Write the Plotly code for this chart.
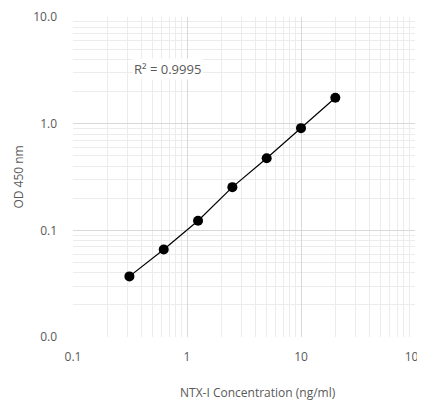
import plotly.graph_objects as go

conc = [0.3125, 0.625, 1.25, 2.5, 5, 10, 20]
od = [0.037, 0.066, 0.123, 0.254, 0.474, 0.908, 1.75]
x_ticks = [0.1, 1, 10, 100]
x_ticktext = ["0.1", "1", "10", "100"]
y_ticks = [0.01, 0.1, 1, 10]
y_ticktext = ["0.0", "0.1", "1.0", "10.0"]
r2_text = "R² = 0.9995"
x_title = "NTX-I Concentration (ng/ml)"
y_title = "OD 450 nm"

FONT = "Open Sans"
GRAY = "#595959"


def minor_vals(lo_exp, hi_exp):
    return [m * 10 ** e for e in range(lo_exp, hi_exp) for m in range(2, 10)]


fig = go.Figure()
fig.add_trace(go.Scatter(
    x=conc, y=od, mode="lines+markers",
    line=dict(color="black", width=1.2),
    marker=dict(color="black", size=10),
    showlegend=False, hoverinfo="skip",
))

axis_common = dict(
    type="log", showline=False, zeroline=False, automargin=False,
    gridcolor="#d9d9d9", gridwidth=1.2,
    ticks="", tickfont=dict(family=FONT, size=12, color=GRAY),
    ticklabeloverflow="allow",
    fixedrange=True,
)

fig.update_layout(
    width=417, height=394,
    margin=dict(l=65, r=10, t=9, b=65),
    paper_bgcolor="white", plot_bgcolor="white",
    font=dict(family=FONT, color=GRAY),
    xaxis=dict(axis_common, range=[-1, 2], tickvals=x_ticks, ticktext=x_ticktext,
               ticklabelstandoff=11,
               minor=dict(tickvals=minor_vals(-1, 2), showgrid=True,
                          gridcolor="#ececec", gridwidth=1, ticks="")),
    yaxis=dict(axis_common, range=[-2, 1], tickvals=y_ticks, ticktext=y_ticktext,
               ticklabelstandoff=15,
               minor=dict(tickvals=minor_vals(-2, 1), showgrid=True,
                          gridcolor="#ececec", gridwidth=1, ticks="")),
    annotations=[
        dict(text=r2_text, xref="paper", yref="paper", x=0.275, y=0.839,
             xanchor="center", yanchor="middle",
             showarrow=False, bgcolor="white", font=dict(family=FONT, size=13, color=GRAY)),
        dict(text=x_title, xref="paper", yref="paper", x=0.54, y=-0.172,
             xanchor="center", yanchor="middle", showarrow=False,
             font=dict(family=FONT, size=12, color=GRAY)),
        dict(text=y_title, xref="paper", yref="paper", x=-0.162, y=0.5,
             xanchor="center", yanchor="middle",
             textangle=-90, showarrow=False, font=dict(family=FONT, size=12, color=GRAY)),
    ],
)

fig.write_html("out.html")
